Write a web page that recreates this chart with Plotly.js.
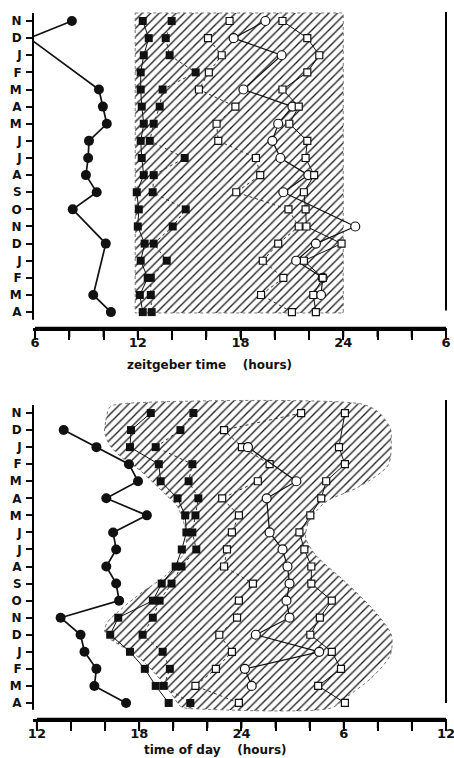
<!DOCTYPE html>
<html>
<head>
<meta charset="utf-8">
<script src="https://cdn.plot.ly/plotly-3.0.1.min.js"></script>
<style>html,body{margin:0;padding:0;background:#fff;}#chart{width:454px;height:758px;}</style>
</head>
<body>
<div id="chart"></div>
<script>
// ---- category / tick labels ----
const months = ['N','D','J','F','M','A','M','J','J','A','S','O','N','D','J','F','M','A'];
const topTickVals = [6,8,10,12,14,16,18,20,22,24,26,28,30];
const topTickText = ['6','','','12','','','18','','','24','','','6'];
const botTickVals = [12,14,16,18,20,22,24,26,28,30,32,34,36];
const botTickText = ['12','','','18','','','24','','','6','','','12'];

// ---- top panel: zeitgeber time (hours) ----
const topFilledCircles = [8.15,5.65,null,null,9.73,9.96,10.19,9.15,9.1,8.97,9.6,8.2,null,10.13,null,null,9.4,10.43];
const topFilledSqA = [12.29,12.64,12.35,12.17,12.17,12.23,12.35,12.17,12.23,12.35,11.94,12.06,12.0,12.4,12.17,12.58,12.12,12.29];
const topFilledSqB = [13.98,13.63,13.86,15.38,13.45,13.28,12.93,12.70,14.74,12.93,12.87,14.8,14.04,12.93,13.69,12.76,12.76,12.81];
const topOpenSqC = [17.36,16.1,16.9,16.15,15.57,17.7,16.6,16.7,18.9,19.15,17.75,20.8,21.4,20.2,19.3,20.5,19.2,21.0];
const topOpenCircles = [19.45,17.6,20.4,null,18.17,21.03,20.2,19.86,20.33,21.96,20.5,null,24.7,22.4,21.25,22.8,22.7,null];
const topOpenSqE = [20.45,21.9,22.6,21.9,20.45,21.4,20.85,21.9,21.8,22.3,21.7,21.8,21.85,23.9,21.7,22.8,22.25,22.4];
// hatched dark period (zeitgeber time)
const topDarkX = [11.85,24.0,24.0,11.85,11.85];
const topDarkY = [-0.47,-0.47,17.05,17.05,-0.47];

// ---- bottom panel: time of day (hours, >24 = next day) ----
const botFilledCircles = [null,13.57,15.49,17.4,17.93,16.07,18.45,16.47,16.65,16.07,16.65,16.82,13.39,14.56,14.79,15.49,15.37,17.23];
const botFilledSqA = [18.68,17.52,17.46,19.15,19.26,20.25,20.7,20.77,20.5,20.14,19.32,18.8,16.77,16.3,17.46,18.33,18.97,19.73];
const botFilledSqB = [21.18,20.42,18.97,21.12,20.9,21.47,21.3,21.12,21.35,20.48,19.9,19.2,18.8,18.2,19.38,19.8,19.44,21.0];
const botOpenSqC = [27.5,22.98,24.03,25.65,24.96,22.87,23.85,23.44,23.15,22.98,24.67,23.85,23.74,22.7,23.44,22.5,21.3,23.85];
const botOpenCircles = [null,null,24.38,null,27.22,25.48,null,25.65,26.41,26.7,26.82,26.64,26.82,24.84,28.56,24.2,24.6,null];
const botOpenSqE = [30.07,null,29.72,30.07,28.97,28.68,28.04,27.4,27.69,28.1,28.1,29.3,28.6,28.04,29.3,29.84,28.5,30.07];
// hatched night outline (time of day)
const botNightX = [16.27,16.03,15.97,16.27,17.02,18.02,18.78,19.59,20.18,20.53,20.76,20.64,19.59,18.19,17.02,16.15,15.97,16.15,16.85,18.02,19.01,19.94,20.47,21.52,29.28,30.1,31.62,32.73,32.79,31.85,30.1,28.35,27.77,27.94,28.93,30.86,32.61,32.79,32.73,32.03,31.03,16.85,16.27];
const botNightY = [-0.35,0.53,1.11,1.88,2.64,3.34,4.04,4.81,5.39,6.15,7.15,8.15,9.5,10.49,11.43,12.25,12.72,13.13,13.6,14.36,15.36,16.53,17.23,17.35,17.29,16.7,15.53,14.19,13.01,11.66,9.91,8.32,7.33,6.39,5.22,4.34,3.05,1.47,0.88,-0.06,-0.53,-0.53,-0.35];

const rows = months.map((m,i)=>i);
const hatch = {shape:'/', size:6, solidity:0.22, fgcolor:'#1a1a1a', bgcolor:'#ffffff'};

// axis geometry
const H = 758, MT = 12, MB = 39;
const plotH = H - MT - MB;
const topX = [5.88,30], botX = [11.77,36];
const topYR = [17.93,-0.526], botYR = [17.94,-0.88];
const topDom = [0.553,1], botDom = [0,0.454];

function series(x, xa, ya, style){
  return Object.assign({x:x, y:rows, xaxis:xa, yaxis:ya, type:'scatter', mode:'lines+markers',
    connectgaps:true, cliponaxis:false, hoverinfo:'skip', showlegend:false}, style);
}
const sFC = {line:{color:'#111',width:1.7}, marker:{symbol:'circle',size:10,color:'#111'}};
const sFA = {line:{color:'#111',width:1}, marker:{symbol:'square',size:8,color:'#111'}};
const sFB = {line:{color:'#333',width:1,dash:'dot'}, marker:{symbol:'square',size:8,color:'#111'}};
const sOC = {line:{color:'#333',width:1,dash:'dot'}, marker:{symbol:'square',size:7,color:'#fff',line:{color:'#111',width:1.2}}};
const sOD = {line:{color:'#111',width:1.2}, marker:{symbol:'circle',size:9,color:'#fff',line:{color:'#111',width:1.2}}};
const sOE = {line:{color:'#111',width:1}, marker:{symbol:'square',size:7,color:'#fff',line:{color:'#111',width:1.2}}};

const traces = [
  {x:topDarkX, y:topDarkY, xaxis:'x', yaxis:'y', type:'scatter', mode:'lines', fill:'toself',
   fillcolor:'#ffffff', fillpattern:hatch, line:{color:'#777',width:1,dash:'dot'}, hoverinfo:'skip', showlegend:false},
  {x:botNightX, y:botNightY, xaxis:'x2', yaxis:'y2', type:'scatter', mode:'lines', fill:'toself',
   fillcolor:'#ffffff', fillpattern:hatch, line:{color:'#777',width:1,dash:'dot',shape:'spline',smoothing:0.8}, hoverinfo:'skip', showlegend:false},
  series(topFilledCircles,'x','y',sFC),
  series(topFilledSqA,'x','y',sFA),
  series(topFilledSqB,'x','y',sFB),
  series(topOpenSqC,'x','y',sOC),
  series(topOpenCircles,'x','y',sOD),
  series(topOpenSqE,'x','y',sOE),
  series(botFilledCircles,'x2','y2',sFC),
  series(botFilledSqA,'x2','y2',sFA),
  series(botFilledSqB,'x2','y2',sFB),
  series(botOpenSqC,'x2','y2',sOC),
  series(botOpenCircles,'x2','y2',sOD),
  series(botOpenSqE,'x2','y2',sOE)
];

const fTick = {family:'DejaVu Sans, Liberation Sans, sans-serif', size:12, color:'#111', weight:'bold'};
const fNum = {family:'DejaVu Sans, Liberation Sans, sans-serif', size:13, color:'#111', weight:'bold'};
function xax(range, vals, text, anchor){
  return {domain:[0,1], anchor:anchor, range:range, tickmode:'array', tickvals:vals, ticktext:text,
    ticks:'outside', ticklen:9, tickwidth:2, tickcolor:'#000', ticklabelstandoff:-8,
    showline:true, linecolor:'#000', linewidth:2.5, mirror:false,
    ticklabeloverflow:'allow', showgrid:false, zeroline:false, tickfont:fNum, fixedrange:true};
}
function yax(domain, range, anchor){
  return {domain:domain, anchor:anchor, range:range, tickmode:'array', tickvals:rows, ticktext:months,
    ticks:'outside', ticklen:6, tickwidth:2, tickcolor:'#111', showline:false, showgrid:false, zeroline:false,
    tickfont:fTick, ticklabelstandoff:2, fixedrange:true};
}
// map axis values to paper coordinates (paper shapes)
const px = (v, r) => (v - r[0]) / (r[1] - r[0]);
const py = (v, r, d) => d[0] + (d[1]-d[0]) * (v - r[0]) / (r[1] - r[0]);
const lw = 2.5 / plotH, tk = 9 / plotH, tw = 1 / 415;
const shapes = [
  {type:'line', xref:'paper', yref:'paper', x0:0, x1:0, y0:py(-0.47,topYR,topDom), y1:py(17.45,topYR,topDom), line:{color:'#000',width:2}},
  {type:'line', xref:'paper', yref:'paper', x0:0, x1:0, y0:py(-0.47,botYR,botDom), y1:py(17.4,botYR,botDom), line:{color:'#000',width:2}},
  {type:'line', xref:'paper', yref:'paper', x0:px(30,topX), x1:px(30,topX), y0:py(-0.53,topYR,topDom), y1:py(16.9,topYR,topDom), line:{color:'#000',width:2}},
  {type:'line', xref:'paper', yref:'paper', x0:px(36,botX), x1:px(36,botX), y0:py(-0.76,botYR,botDom), y1:py(17.0,botYR,botDom), line:{color:'#000',width:2}},
  {type:'rect', xref:'paper', yref:'paper', x0:px(6,topX), x1:px(30,topX), y0:topDom[0]+lw/2, y1:topDom[0]-lw/2, fillcolor:'#000', line:{width:0}},
  {type:'rect', xref:'paper', yref:'paper', x0:px(12,botX), x1:px(36,botX), y0:botDom[0]+lw/2, y1:botDom[0]-lw/2, fillcolor:'#000', line:{width:0}}
];
topTickVals.forEach(v=>shapes.push({type:'rect', xref:'paper', yref:'paper',
  x0:px(v,topX)-tw, x1:px(v,topX)+tw, y0:topDom[0], y1:topDom[0]-tk, fillcolor:'#000', line:{width:0}}));
botTickVals.forEach(v=>shapes.push({type:'rect', xref:'paper', yref:'paper',
  x0:px(v,botX)-tw, x1:px(v,botX)+tw, y0:botDom[0], y1:botDom[0]-tk, fillcolor:'#000', line:{width:0}}));

const nb = '\u00a0\u00a0\u00a0\u00a0';
const layout = {
  width:454, height:758, paper_bgcolor:'#fff', plot_bgcolor:'rgba(0,0,0,0)',
  margin:{l:33, r:8, t:MT, b:MB},
  xaxis: xax(topX, topTickVals, topTickText, 'y'),
  yaxis: yax(topDom, topYR, 'x'),
  xaxis2: xax(botX, botTickVals, botTickText, 'y2'),
  yaxis2: yax(botDom, botYR, 'x2'),
  shapes: shapes,
  annotations:[
    {text:'zeitgeber time'+nb+'(hours)', xref:'paper', yref:'paper', x:0.427, y:0.501, xanchor:'center', yanchor:'middle',
     showarrow:false, font:{family:'DejaVu Sans, sans-serif', size:12, color:'#111', weight:'bold'}},
    {text:'time of day'+nb+'(hours)', xref:'paper', yref:'paper', x:0.443, y:-0.0438, xanchor:'center', yanchor:'middle',
     showarrow:false, font:{family:'DejaVu Sans, sans-serif', size:12, color:'#111', weight:'bold'}}
  ]
};
Plotly.newPlot('chart', traces, layout, {staticPlot:true, displayModeBar:false});
</script>
</body>
</html>
